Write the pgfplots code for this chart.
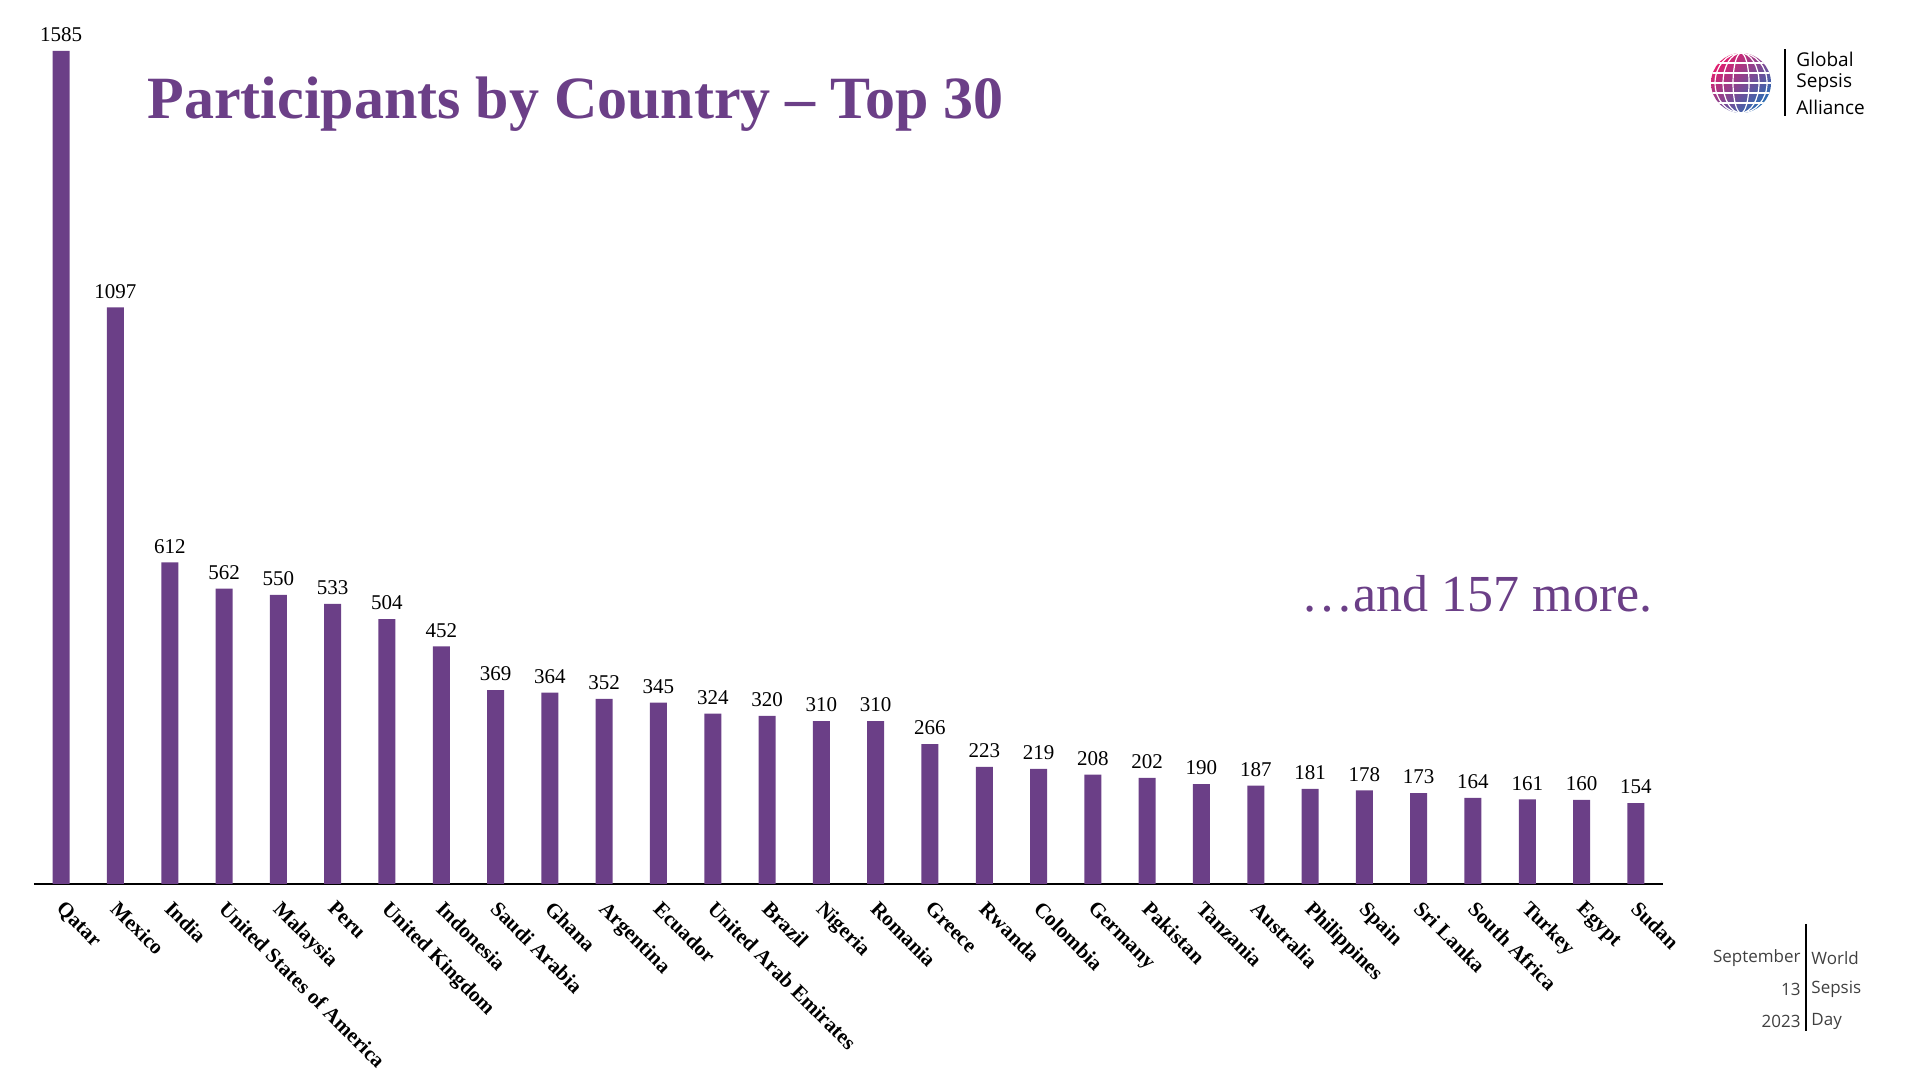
\documentclass[border=0pt]{standalone}
\usepackage{pgfplots}
\pgfplotsset{compat=1.18}
\usepackage{fontspec}
\setmainfont{Liberation Serif}
\newfontfamily\logofont{Open Sans}
\definecolor{gsapurple}{RGB}{107,63,135}
\definecolor{gsapink}{RGB}{226,30,110}
\definecolor{gsablue}{RGB}{40,110,180}
\begin{document}
\begin{tikzpicture}[x=1pt,y=1pt]
\useasboundingbox (0,0) rectangle (960,540);
\begin{axis}[
  at={(17pt,98pt)}, anchor=south west,
  scale only axis, width=814.5pt, height=416.5pt,
  xmin=-0.5, xmax=29.5, ymin=0, ymax=1585,
  axis x line=bottom, axis y line=none,
  x axis line style={-, black, line width=0.8pt},
  ytick=\empty,
  xtick={0,...,29},
  major tick length=0pt,
  xticklabels={Qatar,Mexico,India,United States of America,Malaysia,Peru,United Kingdom,Indonesia,Saudi Arabia,Ghana,Argentina,Ecuador,United Arab Emirates,Brazil,Nigeria,Romania,Greece,Rwanda,Colombia,Germany,Pakistan,Tanzania,Australia,Philippines,Spain,Sri Lanka,South Africa,Turkey,Egypt,Sudan},
  xticklabel style={rotate=-45, anchor=north west, font=\fontsize{10.5}{10.5}\selectfont\bfseries, inner sep=0pt, xshift=6.9pt, yshift=-3.9pt},
  ybar, bar width=8.5pt,
  /pgf/number format/assume math mode=true,
  /pgf/number format/1000 sep={},
  nodes near coords,
  nodes near coords style={font=\fontsize{10.5}{10.5}\selectfont, anchor=south, yshift=1pt, black},
  clip=false,
]
\addplot[fill=gsapurple, draw=none] coordinates {
(0,1585) (1,1097) (2,612) (3,562) (4,550) (5,533) (6,504) (7,452) (8,369) (9,364)
(10,352) (11,345) (12,324) (13,320) (14,310) (15,310) (16,266) (17,223) (18,219) (19,208)
(20,202) (21,190) (22,187) (23,181) (24,178) (25,173) (26,164) (27,161) (28,160) (29,154)
};
\end{axis}
% title
\node[anchor=base west, inner sep=0pt, text=gsapurple, font=\fontsize{30}{30}\selectfont\bfseries] at (73.5,480.5) {Participants by Country -- Top 30};
% and more
\node[anchor=base east, inner sep=0pt, text=gsapurple, font=\fontsize{26}{26}\selectfont] at (826.5,234) {\ldots and 157 more.};
% logo
\begin{scope}
\clip (870.5,498.5) circle (15);
\shade[left color=gsapink, right color=gsablue, shading angle=45] (855.5,483.5) rectangle (885.5,513.5);
\foreach \a in {-10,-5,0,5,10} {\draw[white, line width=0.6pt] (855,498.5+\a) -- (886,498.5+\a);}
\foreach \r in {4,9,13} {\draw[white, line width=0.6pt] (870.5,498.5) ellipse (\r pt and 15pt);}
\end{scope}
\draw[black, line width=0.6pt] (892.5,482) -- (892.5,515.5);
\node[anchor=west, inner sep=0pt, font=\logofont\fontsize{9.5}{9.5}\selectfont] at (898,510.5) {Global};
\node[anchor=west, inner sep=0pt, font=\logofont\fontsize{9.5}{9.5}\selectfont] at (898,498.5) {Sepsis};
\node[anchor=west, inner sep=0pt, font=\logofont\fontsize{9.5}{9.5}\selectfont] at (898,486.5) {Alliance};
% bottom right
\draw[black, line width=0.8pt] (903,78) -- (903,24.5);
\foreach \t/\yy in {September/61,13/45.5,2023/29.5} {
  \node[anchor=east, inner sep=0pt, text=black!75, font=\logofont\fontsize{8.5}{8.5}\selectfont] at (900.5,\yy) {\t};
}
\foreach \t/\yy in {World/61,Sepsis/45.5,Day/29.5} {
  \node[anchor=west, inner sep=0pt, text=black!75, font=\logofont\fontsize{8.5}{8.5}\selectfont] at (905.5,\yy) {\t};
}
\end{tikzpicture}
\end{document}
